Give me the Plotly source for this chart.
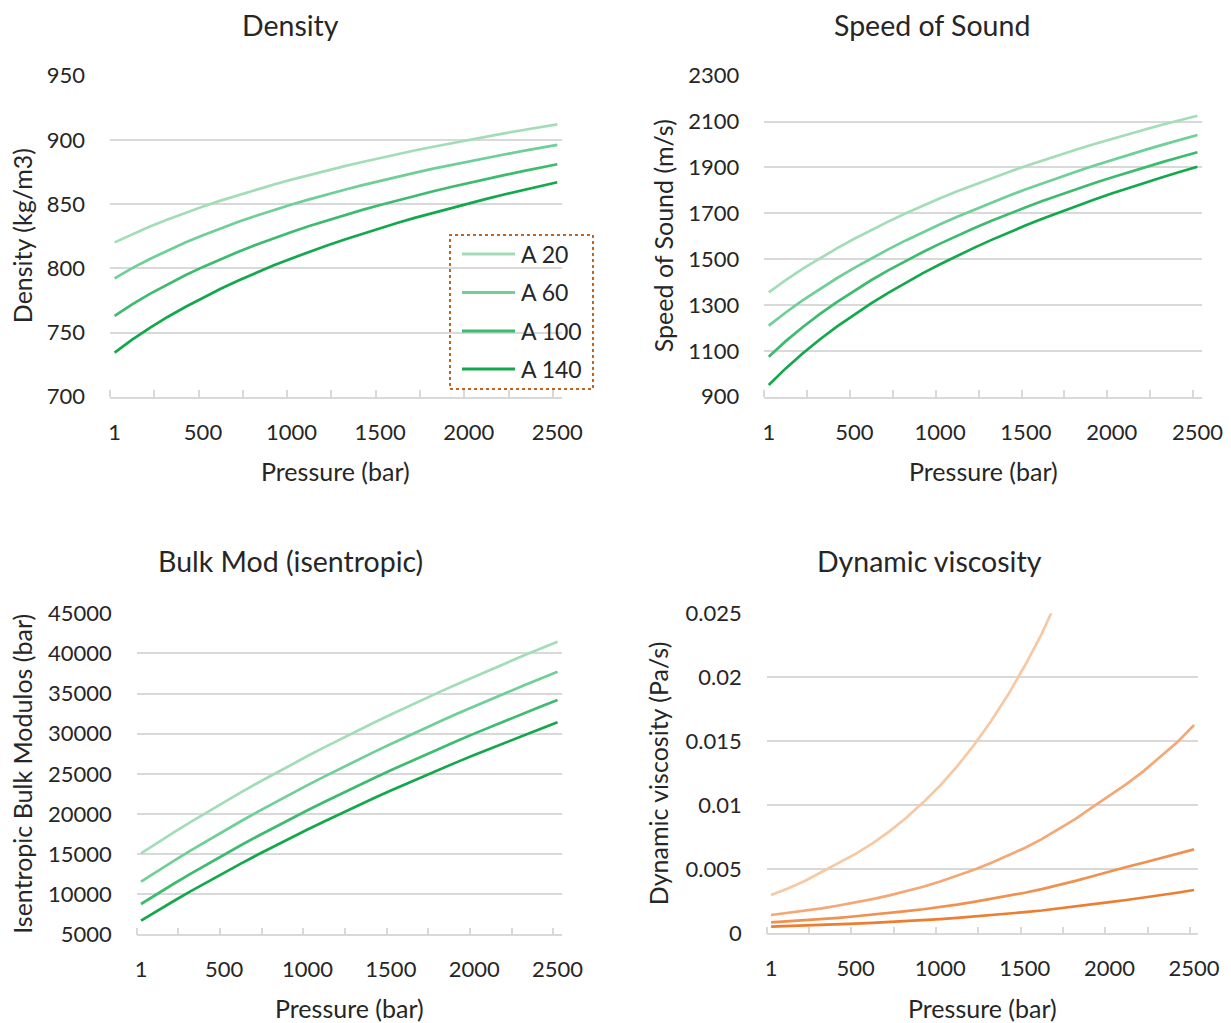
import plotly.graph_objects as go

W, H = 1231, 1023

# ---------------- data ----------------
pressure = [1, 100, 200, 300, 400, 500, 600, 700, 800, 900, 1000, 1100, 1200,
            1300, 1400, 1500, 1600, 1700, 1800, 1900, 2000, 2100, 2200, 2300, 2400, 2500]
series_names = ["A 20", "A 60", "A 100", "A 140"]
x_tick_vals = [1, 500, 1000, 1500, 2000, 2500]
x_tick_text = ["1", "500", "1000", "1500", "2000", "2500"]

density_a20 = [820.2, 826.6, 832.5, 838.0, 843.2, 848.1, 852.7, 857.1, 861.3, 865.3, 869.1, 872.7, 876.2,
               879.6, 882.8, 886.0, 889.0, 891.9, 894.7, 897.4, 900.0, 902.6, 905.1, 907.5, 909.8, 912.1]
density_a60 = [792.2, 800.1, 807.3, 814.0, 820.1, 825.8, 831.2, 836.2, 840.9, 845.4, 849.7, 853.7, 857.6,
               861.2, 864.8, 868.2, 871.4, 874.5, 877.6, 880.5, 883.3, 886.0, 888.6, 891.2, 893.7, 896.1]
density_a100 = [762.9, 771.9, 780.1, 787.6, 794.6, 801.1, 807.2, 812.9, 818.3, 823.4, 828.3, 832.9, 837.3,
                841.4, 845.5, 849.3, 853.0, 856.6, 860.0, 863.3, 866.5, 869.6, 872.6, 875.5, 878.3, 881.0]
density_a140 = [734.3, 744.4, 753.6, 762.1, 769.9, 777.2, 784.1, 790.5, 796.5, 802.3, 807.7, 812.9, 817.8,
                822.5, 827.0, 831.3, 835.5, 839.5, 843.3, 847.1, 850.6, 854.1, 857.5, 860.7, 863.9, 867.0]

sos_a20 = [1355.4, 1408.6, 1458.2, 1504.5, 1548.1, 1589.1, 1627.9, 1664.8, 1699.8, 1733.2, 1765.1, 1795.7, 1825.0,
           1853.1, 1880.3, 1906.4, 1931.5, 1955.9, 1979.4, 2002.3, 2024.4, 2045.8, 2066.6, 2086.9, 2106.5, 2125.6]
sos_a60 = [1209.7, 1267.2, 1320.7, 1370.7, 1417.7, 1462.0, 1504.0, 1543.7, 1581.6, 1617.6, 1652.1, 1685.1, 1716.7,
           1747.1, 1776.4, 1804.7, 1831.8, 1858.1, 1883.5, 1908.2, 1932.1, 1955.2, 1977.7, 1999.5, 2020.8, 2041.4]
sos_a100 = [1074.5, 1142.3, 1204.2, 1261.2, 1313.9, 1363.0, 1408.9, 1452.0, 1492.7, 1531.2, 1567.6, 1602.4, 1635.5,
            1667.1, 1697.4, 1726.4, 1754.3, 1781.2, 1807.1, 1832.0, 1856.2, 1879.5, 1902.1, 1924.0, 1945.2, 1965.9]
sos_a140 = [951.1, 1023.5, 1089.6, 1150.5, 1206.8, 1259.2, 1308.3, 1354.3, 1397.8, 1438.9, 1477.8, 1514.9, 1550.3,
            1584.0, 1616.4, 1647.4, 1677.2, 1705.9, 1733.5, 1760.2, 1785.9, 1810.8, 1835.0, 1858.3, 1881.0, 1903.1]

bulk_a20 = [15093, 16434, 17743, 19021, 20269, 21490, 22683, 23852, 24995, 26115, 27212, 28288, 29342,
            30376, 31391, 32388, 33367, 34328, 35272, 36201, 37114, 38011, 38894, 39763, 40619, 41461]
bulk_a60 = [11555, 12886, 14185, 15453, 16692, 17903, 19088, 20247, 21382, 22493, 23582, 24650, 25696,
            26722, 27730, 28719, 29690, 30644, 31581, 32503, 33409, 34300, 35176, 36038, 36887, 37723]
bulk_a100 = [8776, 10069, 11330, 12562, 13766, 14943, 16093, 17220, 18322, 19401, 20459, 21496, 22512,
             23510, 24488, 25449, 26392, 27319, 28230, 29125, 30005, 30870, 31721, 32559, 33384, 34196]
bulk_a140 = [6695, 7952, 9179, 10378, 11548, 12692, 13812, 14907, 15979, 17029, 18057, 19066, 20054,
             21024, 21976, 22911, 23828, 24729, 25615, 26486, 27342, 28183, 29011, 29825, 30627, 31417]

visc_a20 = [0.00299, 0.00350, 0.00409, 0.00478, 0.00546, 0.00620, 0.00703, 0.00796, 0.00903, 0.01023, 0.01155,
            0.01304, 0.01471, 0.01656, 0.01861, 0.02090, 0.02340, 0.02615, 0.02919, 0.03259, 0.03638, 0.04061,
            0.04533, 0.05060, 0.05648, 0.06305]
visc_a60 = [0.00143, 0.00159, 0.00176, 0.00195, 0.00217, 0.00240, 0.00267, 0.00296, 0.00328, 0.00364, 0.00404,
            0.00448, 0.00497, 0.00549, 0.00605, 0.00667, 0.00736, 0.00812, 0.00894, 0.00986, 0.01074, 0.01166,
            0.01265, 0.01375, 0.01492, 0.01627]
visc_a100 = [0.00085, 0.00093, 0.00101, 0.00111, 0.00121, 0.00133, 0.00145, 0.00159, 0.00173, 0.00188, 0.00205,
             0.00224, 0.00245, 0.00267, 0.00291, 0.00317, 0.00345, 0.00376, 0.00410, 0.00446, 0.00485, 0.00518,
             0.00551, 0.00585, 0.00620, 0.00656]
visc_a140 = [0.00052, 0.00056, 0.00060, 0.00065, 0.00070, 0.00076, 0.00082, 0.00088, 0.00095, 0.00103, 0.00111,
             0.00120, 0.00130, 0.00141, 0.00152, 0.00165, 0.00178, 0.00193, 0.00208, 0.00225, 0.00243, 0.00260,
             0.00278, 0.00297, 0.00317, 0.00338]

# ---------------- style ----------------
greens = ["#A3DDB8", "#6ECF97", "#3DBB6E", "#14A84C"]
oranges = ["#F7C8A4", "#F3A876", "#F0914F", "#ED7D31"]
FONT = "Lato"
TXT = "#262626"
GRID = "#D9D9D9"
LW = 2.7


def px(x):
    return x / W


def py(y):
    return 1 - y / H


panels = [
    ("", [density_a20, density_a60, density_a100, density_a140], greens, [700, 950], 50,
     (110, 561.7, 75.7, 396.7), "Density", (290, 25), "Density (kg/m3)", 22, 471, None),
    ("2", [sos_a20, sos_a60, sos_a100, sos_a140], greens, [900, 2300], 200,
     (764.3, 1201.7, 75.7, 396.7), "Speed of Sound", (932, 25), "Speed of Sound (m/s)", 663, 471, None),
    ("3", [bulk_a20, bulk_a60, bulk_a100, bulk_a140], greens, [5000, 45000], 5000,
     (136.7, 561.7, 613.3, 934.3), "Bulk Mod (isentropic)", (290, 561), "Isentropic Bulk Modulos (bar)", 22, 1008, "d"),
    ("4", [visc_a20, visc_a60, visc_a100, visc_a140], oranges, [0, 0.025], 0.005,
     (766.7, 1198.3, 613.3, 933.3), "Dynamic viscosity", (929, 561), "Dynamic viscosity (Pa/s)", 658, 1008, None),
]

fig = go.Figure()
annotations = []
layout = dict(
    width=W, height=H, autosize=False,
    margin=dict(l=0, r=0, t=0, b=0, pad=0, autoexpand=False),
    paper_bgcolor="white", plot_bgcolor="white", showlegend=False,
    font=dict(family=FONT, color=TXT),
)

for suf, data, cols, yr, ydt, box, title, tpos, ytitle, ytx, xty, tfmt in panels:
    x0, x1, y0, y1 = box
    for name, vals, c in zip(series_names, data, cols):
        fig.add_trace(go.Scatter(x=pressure, y=vals, mode="lines", name=name,
                                 line=dict(color=c, width=LW),
                                 xaxis="x" + suf, yaxis="y" + suf, showlegend=False))
    layout["xaxis" + suf] = dict(
        domain=[px(x0), px(x1)], anchor="y" + suf, range=[-25, 2525], automargin=False,
        tickmode="array", tickvals=x_tick_vals, ticktext=x_tick_text, ticks="",
        ticklabelstandoff=15,
        showgrid=False, zeroline=False, showline=True, linecolor=GRID, linewidth=1.5,
        tickfont=dict(family=FONT, size=22, color=TXT),
        minor=dict(tickmode="linear", tick0=-25, dtick=250, ticks="inside", ticklen=7,
                   tickcolor=GRID, tickwidth=1.5, showgrid=False),
    )
    ya = dict(
        domain=[py(y1), py(y0)], anchor="x" + suf, range=yr, dtick=ydt, tick0=yr[0], automargin=False,
        showgrid=True, gridcolor=GRID, gridwidth=1.5, zeroline=False, showline=False,
        ticks="", ticklabelstandoff=24,
        tickfont=dict(family=FONT, size=22, color=TXT),
    )
    if tfmt:
        ya["tickformat"] = tfmt
    layout["yaxis" + suf] = ya

    annotations.append(dict(text=title, x=px(tpos[0]), y=py(tpos[1]), xref="paper", yref="paper",
                            showarrow=False, xanchor="center", yanchor="middle",
                            font=dict(family=FONT, size=28.5, color=TXT)))
    annotations.append(dict(text=ytitle, x=px(ytx), y=py((y0 + y1) / 2), xref="paper", yref="paper",
                            showarrow=False, xanchor="center", yanchor="middle", textangle=-90,
                            font=dict(family=FONT, size=25, color=TXT)))
    annotations.append(dict(text="Pressure (bar)", x=px((x0 + x1) / 2), y=py(xty), xref="paper", yref="paper",
                            showarrow=False, xanchor="center", yanchor="middle",
                            font=dict(family=FONT, size=25, color=TXT)))

# ---------------- manual legend (density panel) ----------------
shapes = [dict(type="rect", xref="paper", yref="paper", x0=px(450), x1=px(593), y0=py(389), y1=py(235),
               line=dict(color="#C0641E", width=2, dash="dot"), fillcolor="rgba(0,0,0,0)")]
leg_rows = [254, 292.5, 331, 369]
for name, c, ry in zip(series_names, greens, leg_rows):
    shapes.append(dict(type="line", xref="paper", yref="paper", x0=px(462), x1=px(515), y0=py(ry), y1=py(ry),
                       line=dict(color=c, width=LW + 0.3)))
    annotations.append(dict(text=name, x=px(519), y=py(ry), xref="paper", yref="paper", showarrow=False,
                            xanchor="left", yanchor="middle", font=dict(family=FONT, size=23, color=TXT)))

layout["annotations"] = annotations
layout["shapes"] = shapes
fig.update_layout(**layout)
fig.write_html("out.html")
